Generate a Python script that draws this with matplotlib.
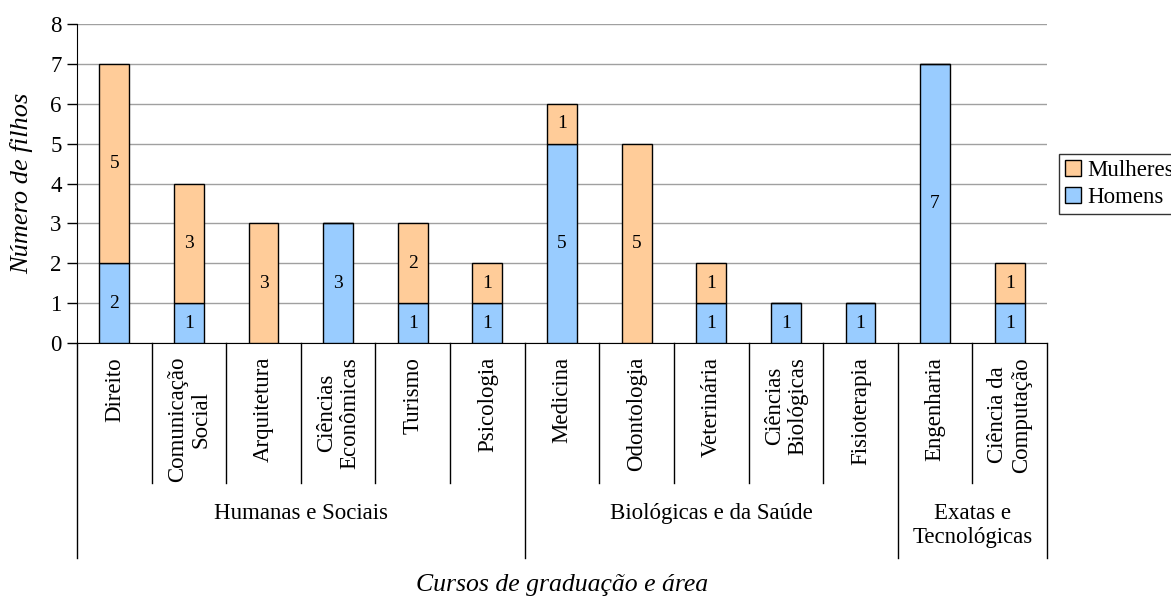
import matplotlib.pyplot as plt
from matplotlib.transforms import blended_transform_factory
import numpy as np

# Data
cursos = ["Direito", "Comunicação\nSocial", "Arquitetura", "Ciências\nEconômicas",
          "Turismo", "Psicologia", "Medicina", "Odontologia", "Veterinária",
          "Ciências\nBiológicas", "Fisioterapia", "Engenharia", "Ciência da\nComputação"]
homens = [2, 1, 0, 3, 1, 1, 5, 0, 1, 1, 1, 7, 1]
mulheres = [5, 3, 3, 0, 2, 1, 1, 5, 1, 0, 0, 0, 1]
areas = ["Humanas e Sociais", "Biológicas e da Saúde", "Exatas e\nTecnológicas"]
area_sizes = [6, 5, 2]

COR_H = "#99CCFF"
COR_M = "#FFCC99"

plt.rcParams['font.family'] = ['Liberation Serif', 'DejaVu Serif']

fig = plt.figure(figsize=(11.71, 5.98), dpi=100)
ax = fig.add_axes([77 / 1171, 1 - 343 / 598, 970 / 1171, 319 / 598])

x = np.arange(len(cursos))
w = 0.4
bh = ax.bar(x, homens, w, color=COR_H, edgecolor="black", linewidth=1, label="Homens", zorder=3)
bm = ax.bar(x, mulheres, w, bottom=homens, color=COR_M, edgecolor="black", linewidth=1,
            label="Mulheres", zorder=3)

for i in range(len(cursos)):
    if homens[i]:
        ax.text(x[i], homens[i] / 2, str(homens[i]), ha="center", va="center", fontsize=14, zorder=4)
    if mulheres[i]:
        ax.text(x[i], homens[i] + mulheres[i] / 2, str(mulheres[i]), ha="center", va="center",
                fontsize=14, zorder=4)

ax.set_xlim(-0.5, len(cursos) - 0.5)
ax.set_ylim(0, 8)
ax.set_yticks(range(0, 9))
ax.yaxis.grid(True, color="#a0a0a0", linewidth=1, zorder=0)
ax.tick_params(axis="y", labelsize=16.5, length=7, width=1, direction="out", pad=4)
ax.set_xticks([])
for s in ["top", "right"]:
    ax.spines[s].set_visible(False)
ax.spines["left"].set_color("black")
ax.spines["bottom"].set_color("black")

trans = blended_transform_factory(ax.transData, ax.transAxes)
y_cat = -(483 - 343) / 319
y_area = -(558 - 343) / 319

# category labels
for i, c in enumerate(cursos):
    ax.text(x[i], -14 / 319, c, transform=trans, rotation=90, ha="center", va="top",
            multialignment="center", fontsize=16.5, linespacing=1.15)

# separators
bounds = np.cumsum([0] + area_sizes) - 0.5
for i in range(len(cursos) + 1):
    xb = i - 0.5
    y_end = y_area if xb in bounds else y_cat
    ax.plot([xb, xb], [0, y_end], transform=trans, color="black", linewidth=1, clip_on=False)

# area labels
for k, a in enumerate(areas):
    xc = (bounds[k] + bounds[k + 1]) / 2
    ax.text(xc, -(503 - 343) / 319, a, transform=trans, ha="center", va="top",
            multialignment="center", fontsize=16.5, linespacing=1.2)

ax.set_ylabel("Número de filhos", fontsize=19, style="italic", labelpad=12)
fig.text((77 + 1047) / 2 / 1171, 1 - 585 / 598, "Cursos de graduação e área", ha="center",
         va="center", fontsize=18.5, style="italic")

leg = fig.legend(handles=[bm, bh], labels=["Mulheres", "Homens"], loc="center left",
                 bbox_to_anchor=(1059 / 1171, 1 - 184 / 598), fontsize=16.5, frameon=True,
                 fancybox=False, edgecolor="black", handlelength=0.7, handleheight=0.7,
                 handletextpad=0.3, borderpad=0.25, labelspacing=0.25, borderaxespad=0)
leg.get_frame().set_linewidth(1)

fig.savefig("out.png", dpi=100)
